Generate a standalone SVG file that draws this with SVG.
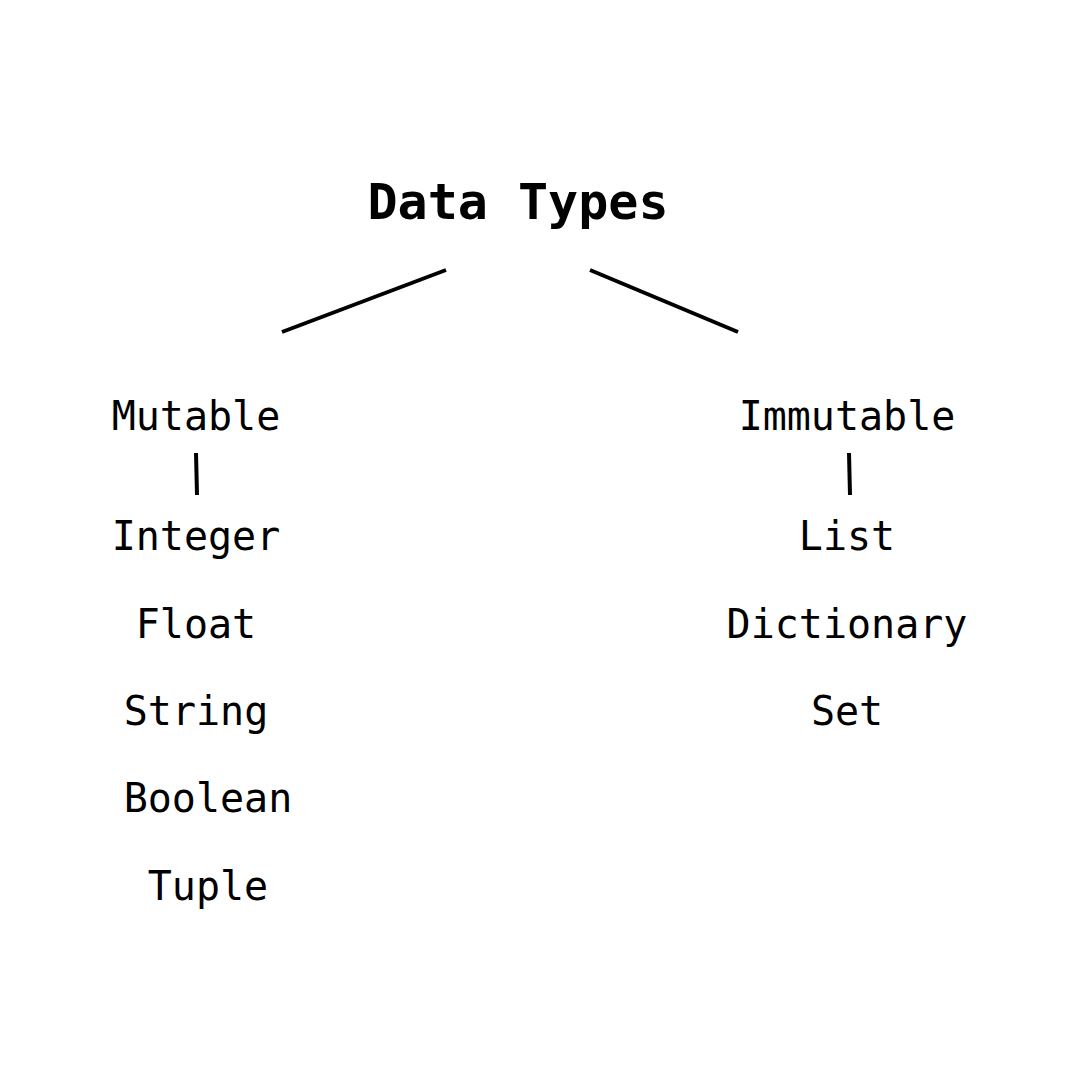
<svg xmlns="http://www.w3.org/2000/svg" width="1080" height="1080" viewBox="0 0 1080 1080">
<style>
text{font-family:"DejaVu Sans Mono","Liberation Mono",monospace;fill:#000;text-anchor:middle}
.t{font-size:50px;font-weight:bold}
.n{font-size:40px}
.c{stroke:#000;stroke-width:4;fill:none}
</style>
<rect width="1080" height="1080" fill="#fff"/>
<g id="title"><text class="t" x="518" y="219">Data Types</text></g>
<g id="connectors">
<line class="c" x1="282" y1="332" x2="446" y2="270"/>
<line class="c" x1="590" y1="270" x2="738" y2="332"/>
<line class="c" x1="196" y1="453" x2="197" y2="495"/>
<line class="c" x1="849" y1="453" x2="850" y2="495"/>
</g>
<g id="mutable"><text class="n" x="196" y="430">Mutable</text></g>
<g id="immutable"><text class="n" x="847" y="430">Immutable</text></g>
<g id="integer"><text class="n" x="196" y="550">Integer</text></g>
<g id="float"><text class="n" x="196" y="638">Float</text></g>
<g id="string"><text class="n" x="196" y="725">String</text></g>
<g id="boolean"><text class="n" x="208" y="812">Boolean</text></g>
<g id="tuple"><text class="n" x="208" y="900">Tuple</text></g>
<g id="list"><text class="n" x="847" y="550">List</text></g>
<g id="dictionary"><text class="n" x="847" y="638">Dictionary</text></g>
<g id="set"><text class="n" x="847" y="725">Set</text></g>
</svg>
